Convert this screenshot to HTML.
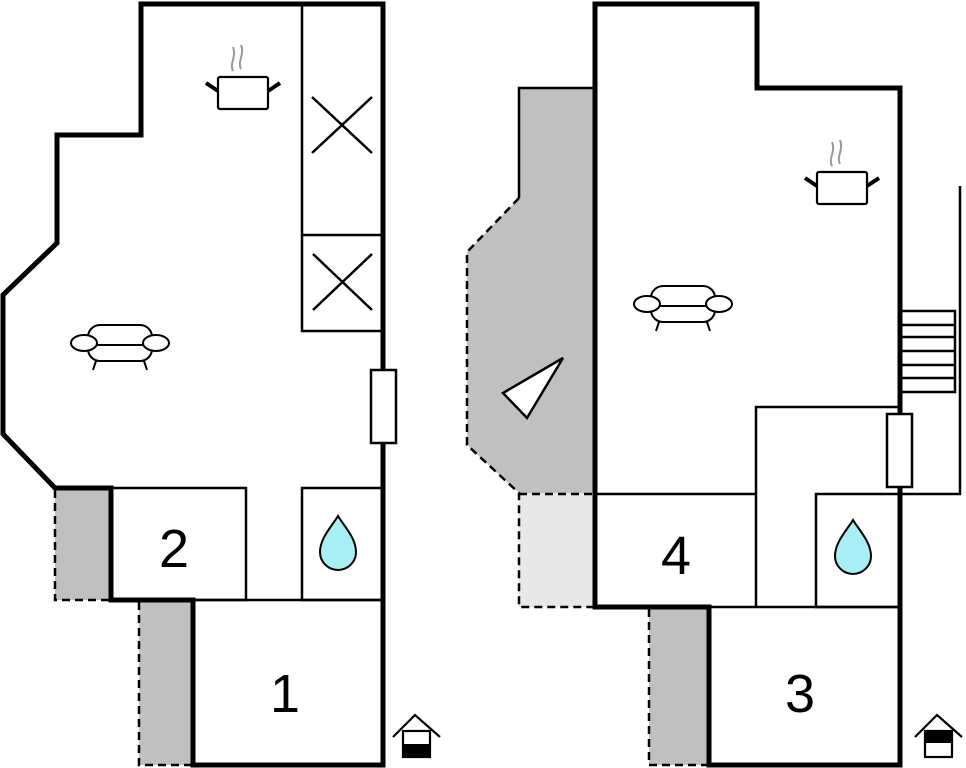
<!DOCTYPE html>
<html><head><style>body{margin:0;background:#fff}svg{display:block}</style></head><body>
<svg width="966" height="768" viewBox="0 0 966 768" xmlns="http://www.w3.org/2000/svg" font-family="Liberation Sans, sans-serif">
<!-- LEFT PLAN -->
<rect x="55" y="488" width="56" height="112" fill="#c0c0c0"/>
<path d="M55 490 V600 H111" fill="none" stroke="#000" stroke-width="2.5" stroke-dasharray="8,5"/>
<rect x="139" y="600" width="54" height="165" fill="#c0c0c0"/>
<path d="M139 602 V765 H193" fill="none" stroke="#000" stroke-width="2.5" stroke-dasharray="8,5"/>
<g fill="none" stroke="#000" stroke-width="2.5">
<rect x="302" y="4" width="80" height="327"/>
<line x1="302" y1="235" x2="382" y2="235"/>
<line x1="312" y1="97" x2="372" y2="153"/><line x1="372" y1="97" x2="312" y2="153"/>
<line x1="313" y1="254" x2="372" y2="310"/><line x1="372" y1="254" x2="313" y2="310"/>
<rect x="111" y="488" width="135" height="112"/>
<rect x="302" y="488" width="80" height="112"/>
<line x1="111" y1="600" x2="383" y2="600"/>
<rect x="371" y="370" width="25" height="73" fill="#fff"/>
</g>
<path d="M383 443 V765 H193 V600 H111 V488 H55 L3 434 V295 L57 243 V135 H141 V4 H383 V370" fill="none" stroke="#000" stroke-width="5" stroke-linejoin="miter"/>
<text x="174" y="567" font-size="54" text-anchor="middle">2</text>
<text x="285" y="712" font-size="54" text-anchor="middle">1</text>
<!-- RIGHT PLAN -->
<path d="M519 88 H595 V493 H519 L467 445 V252 L519 198 Z" fill="#c0c0c0"/>
<rect x="519" y="493" width="76" height="114" fill="#e8e8e8"/>
<path d="M519 198 V88 H595" fill="none" stroke="#000" stroke-width="2.5"/>
<path d="M519 198 L467 252 V445 L519 493 V607 H595 M519 494 H595" fill="none" stroke="#000" stroke-width="2.5" stroke-dasharray="8,5"/>
<polygon points="563,358 503,393 527,418" fill="#fff" stroke="#000" stroke-width="2.5"/>
<rect x="649" y="607" width="60" height="158" fill="#c0c0c0"/>
<path d="M649 609 V765 H709" fill="none" stroke="#000" stroke-width="2.5" stroke-dasharray="8,5"/>
<g fill="none" stroke="#000" stroke-width="2.5">
<line x1="595" y1="494" x2="756" y2="494"/>
<path d="M756 607 V407 H900"/>
<rect x="816" y="494" width="84" height="113"/>
<line x1="709" y1="607" x2="900" y2="607"/>
<path d="M960 186 V494 H900"/>
<path d="M900 311 H955 V392 H900 M900 325 H955 M900 337 H955 M900 351 H955 M900 365 H955 M900 378 H955"/>
<rect x="887" y="414" width="25" height="73" fill="#fff"/>
</g>
<path d="M900 487 V765 H709 V607 H595 V4 H757 V88 H900 V414" fill="none" stroke="#000" stroke-width="5"/>
<text x="676" y="574" font-size="54" text-anchor="middle">4</text>
<text x="800" y="712" font-size="54" text-anchor="middle">3</text>
<!-- ICONS -->
<defs>
<g id="pot"><path d="M-10 -40 c-4 -8 4 -14 0 -24 M-2 -42 c-4 -8 4 -14 0 -24" stroke="#999" stroke-width="2" fill="none"/>
<rect x="-25" y="-34" width="50" height="32" rx="2" fill="#fff" stroke="#000" stroke-width="2.2"/>
<path d="M-25 -20 L-37 -28 M25 -20 L37 -28" stroke="#000" stroke-width="4"/></g>
<g id="sofa" fill="#fff" stroke="#000" stroke-width="2"><rect x="-32" y="-18" width="64" height="36" rx="12"/>
<line x1="-32" y1="2" x2="32" y2="2"/>
<ellipse cx="-36" cy="0" rx="13" ry="8"/><ellipse cx="36" cy="0" rx="13" ry="8"/>
<path d="M-24 18 L-27 27 M24 18 L27 27" fill="none"/></g>
<g id="drop"><path d="M0 -28 C-6 -18 -18 -6 -18 8 A18 18 0 0 0 18 8 C18 -6 6 -18 0 -28 Z" fill="#a8eef5" stroke="#000" stroke-width="2"/></g>
</defs>
<use href="#pot" x="243" y="111"/>
<use href="#pot" x="842" y="206"/>
<use href="#sofa" x="120" y="343"/>
<use href="#sofa" x="683" y="304"/>
<use href="#drop" x="338" y="544"/>
<use href="#drop" x="853" y="548"/>
<g fill="none" stroke="#000" stroke-width="2.2">
<path d="M393 737 L415 715 L440 737"/><rect x="403" y="731" width="27" height="26"/>
<path d="M915 737 L937 715 L962 737"/><rect x="925" y="731" width="27" height="26"/>
</g>
<rect x="403" y="744" width="27" height="13" fill="#000"/>
<rect x="925" y="731" width="27" height="12" fill="#000"/>
</svg>
</body></html>
